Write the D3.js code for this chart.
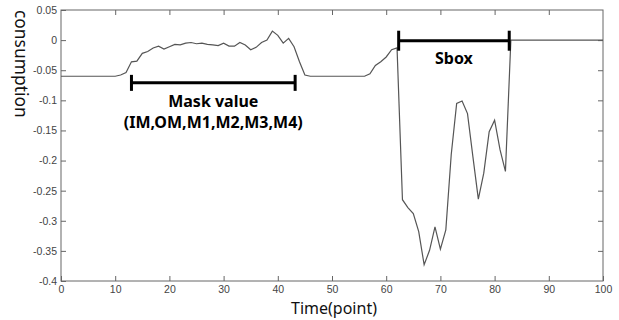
<!DOCTYPE html>
<html>
<head>
<meta charset="utf-8">
<script src="https://cdn.jsdelivr.net/npm/d3@7"></script>
<style>
  html, body { margin: 0; padding: 0; background: #fff; }
  svg { display: block; }
</style>
</head>
<body>
<div id="chart"></div>
<script>
// power consumption trace, one value per time point (index = point)
const consumption = [
  -0.060, -0.060, -0.060, -0.060, -0.060, -0.060, -0.060, -0.060, -0.060, -0.060,
  -0.060, -0.058, -0.054, -0.036, -0.035, -0.022, -0.019, -0.013, -0.010, -0.015,
  -0.011, -0.007, -0.008, -0.005, -0.004, -0.006, -0.005, -0.007, -0.008, -0.009,
  -0.005, -0.010, -0.010, -0.004, -0.008, -0.016, -0.012, -0.004, 0.000, 0.015,
  0.008, -0.005, 0.003, -0.011, -0.036, -0.058, -0.060, -0.060, -0.060, -0.060,
  -0.060, -0.060, -0.060, -0.060, -0.060, -0.060, -0.060, -0.056, -0.042, -0.036,
  -0.028, -0.016, -0.013, -0.265, -0.278, -0.288, -0.318, -0.373, -0.349, -0.310,
  -0.347, -0.315, -0.190, -0.105, -0.101, -0.122, -0.194, -0.264, -0.221, -0.152,
  -0.133, -0.182, -0.218, 0.000, 0.000, 0.000, 0.000, 0.000, 0.000, 0.000,
  0.000, 0.000, 0.000, 0.000, 0.000, 0.000, 0.000, 0.000, 0.000, 0.000,
  0.000
];
const xTicks = [0, 10, 20, 30, 40, 50, 60, 70, 80, 90, 100];
const yTicks = [0.05, 0, -0.05, -0.1, -0.15, -0.2, -0.25, -0.3, -0.35, -0.4];

// bracket annotations: [start point, end point, level]
const maskBracket = [13, 43.2, -0.071];
const sboxBracket = [62.3, 82.7, -0.001];
const maskLabel = ["Mask value", "(IM,OM,M1,M2,M3,M4)"];
const sboxLabel = "Sbox";

const width = 619, height = 320;
const margins = {top: 10, left: 61, right: 16, bottom: 39};
const bodyW = width - margins.left - margins.right;
const bodyH = height - margins.top - margins.bottom;

const svg = d3.select("#chart").append("svg")
  .attr("width", width)
  .attr("height", height);

const body = svg.append("g")
  .attr("transform", "translate(" + margins.left + "," + margins.top + ")");

const x = d3.scaleLinear().domain([0, 100]).range([0, bodyW]);
const y = d3.scaleLinear().domain([-0.4, 0.05]).range([bodyH, 0]);

const axisColor = "#666";
const tickFont = "'Liberation Sans', Arial, sans-serif";
const titleFont = "'Noto Sans', 'Open Sans', sans-serif";

// box
body.append("rect")
  .attr("width", bodyW).attr("height", bodyH)
  .attr("fill", "none").attr("stroke", axisColor).attr("stroke-width", 1);

function styleAxis(g, showText) {
  g.select(".domain").remove();
  g.selectAll(".tick line").attr("stroke", axisColor);
  g.selectAll(".tick text")
    .attr("fill", "#444")
    .style("font-family", tickFont)
    .style("font-size", "10.5px");
  if (!showText) g.selectAll(".tick text").remove();
}

const fmtY = d => d === 0 ? "0" : String(d);

// bottom
body.append("g")
  .attr("transform", "translate(0," + bodyH + ")")
  .call(d3.axisBottom(x).tickValues(xTicks).tickSizeInner(-5).tickSizeOuter(0).tickPadding(5))
  .call(g => styleAxis(g, true));
// top
body.append("g")
  .call(d3.axisTop(x).tickValues(xTicks.slice(1, -1)).tickSizeInner(-5).tickSizeOuter(0))
  .call(g => styleAxis(g, false));
// left
body.append("g")
  .call(d3.axisLeft(y).tickValues(yTicks).tickFormat(fmtY).tickSizeInner(-5).tickSizeOuter(0).tickPadding(4))
  .call(g => styleAxis(g, true));
// right
body.append("g")
  .attr("transform", "translate(" + bodyW + ",0)")
  .call(d3.axisRight(y).tickValues(yTicks.slice(1, -1)).tickSizeInner(-5).tickSizeOuter(0))
  .call(g => styleAxis(g, false));

// trace
const line = d3.line()
  .x((d, i) => x(i))
  .y(d => y(d));

body.append("path")
  .datum(consumption)
  .attr("fill", "none")
  .attr("stroke", "#555")
  .attr("stroke-width", 1.2)
  .attr("d", line);

// brackets
function bracket(b, cap) {
  const g = body.append("g").attr("stroke", "#000").attr("stroke-width", 3);
  const yy = y(b[2]);
  g.append("line").attr("x1", x(b[0])).attr("x2", x(b[1])).attr("y1", yy).attr("y2", yy);
  [b[0], b[1]].forEach(v => {
    g.append("line").attr("x1", x(v)).attr("x2", x(v))
      .attr("y1", yy - cap / 2).attr("y2", yy + cap / 2);
  });
}
bracket(maskBracket, 16);
bracket(sboxBracket, 20);

const maskMid = x((maskBracket[0] + maskBracket[1]) / 2);
body.append("text")
  .attr("x", maskMid).attr("y", y(maskBracket[2]) + 24)
  .attr("text-anchor", "middle")
  .style("font-family", titleFont).style("font-weight", "bold").style("font-size", "16px")
  .text(maskLabel[0]);
body.append("text")
  .attr("x", maskMid).attr("y", y(maskBracket[2]) + 45)
  .attr("text-anchor", "middle")
  .style("font-family", titleFont).style("font-weight", "bold").style("font-size", "16px")
  .text(maskLabel[1]);
body.append("text")
  .attr("x", x((sboxBracket[0] + sboxBracket[1]) / 2)).attr("y", y(sboxBracket[2]) + 23)
  .attr("text-anchor", "middle")
  .style("font-family", titleFont).style("font-weight", "bold").style("font-size", "16px")
  .text(sboxLabel);

// axis titles
svg.append("text")
  .attr("x", margins.left + bodyW / 2 + 2).attr("y", 314)
  .attr("text-anchor", "middle")
  .style("font-family", titleFont).style("font-size", "16px").attr("fill", "#111")
  .text("Time(point)");
svg.append("text")
  .attr("transform", "translate(15,10) rotate(90)")
  .attr("text-anchor", "start")
  .style("font-family", titleFont).style("font-size", "17.4px").attr("fill", "#111")
  .text("consumption");
</script>
</body>
</html>
